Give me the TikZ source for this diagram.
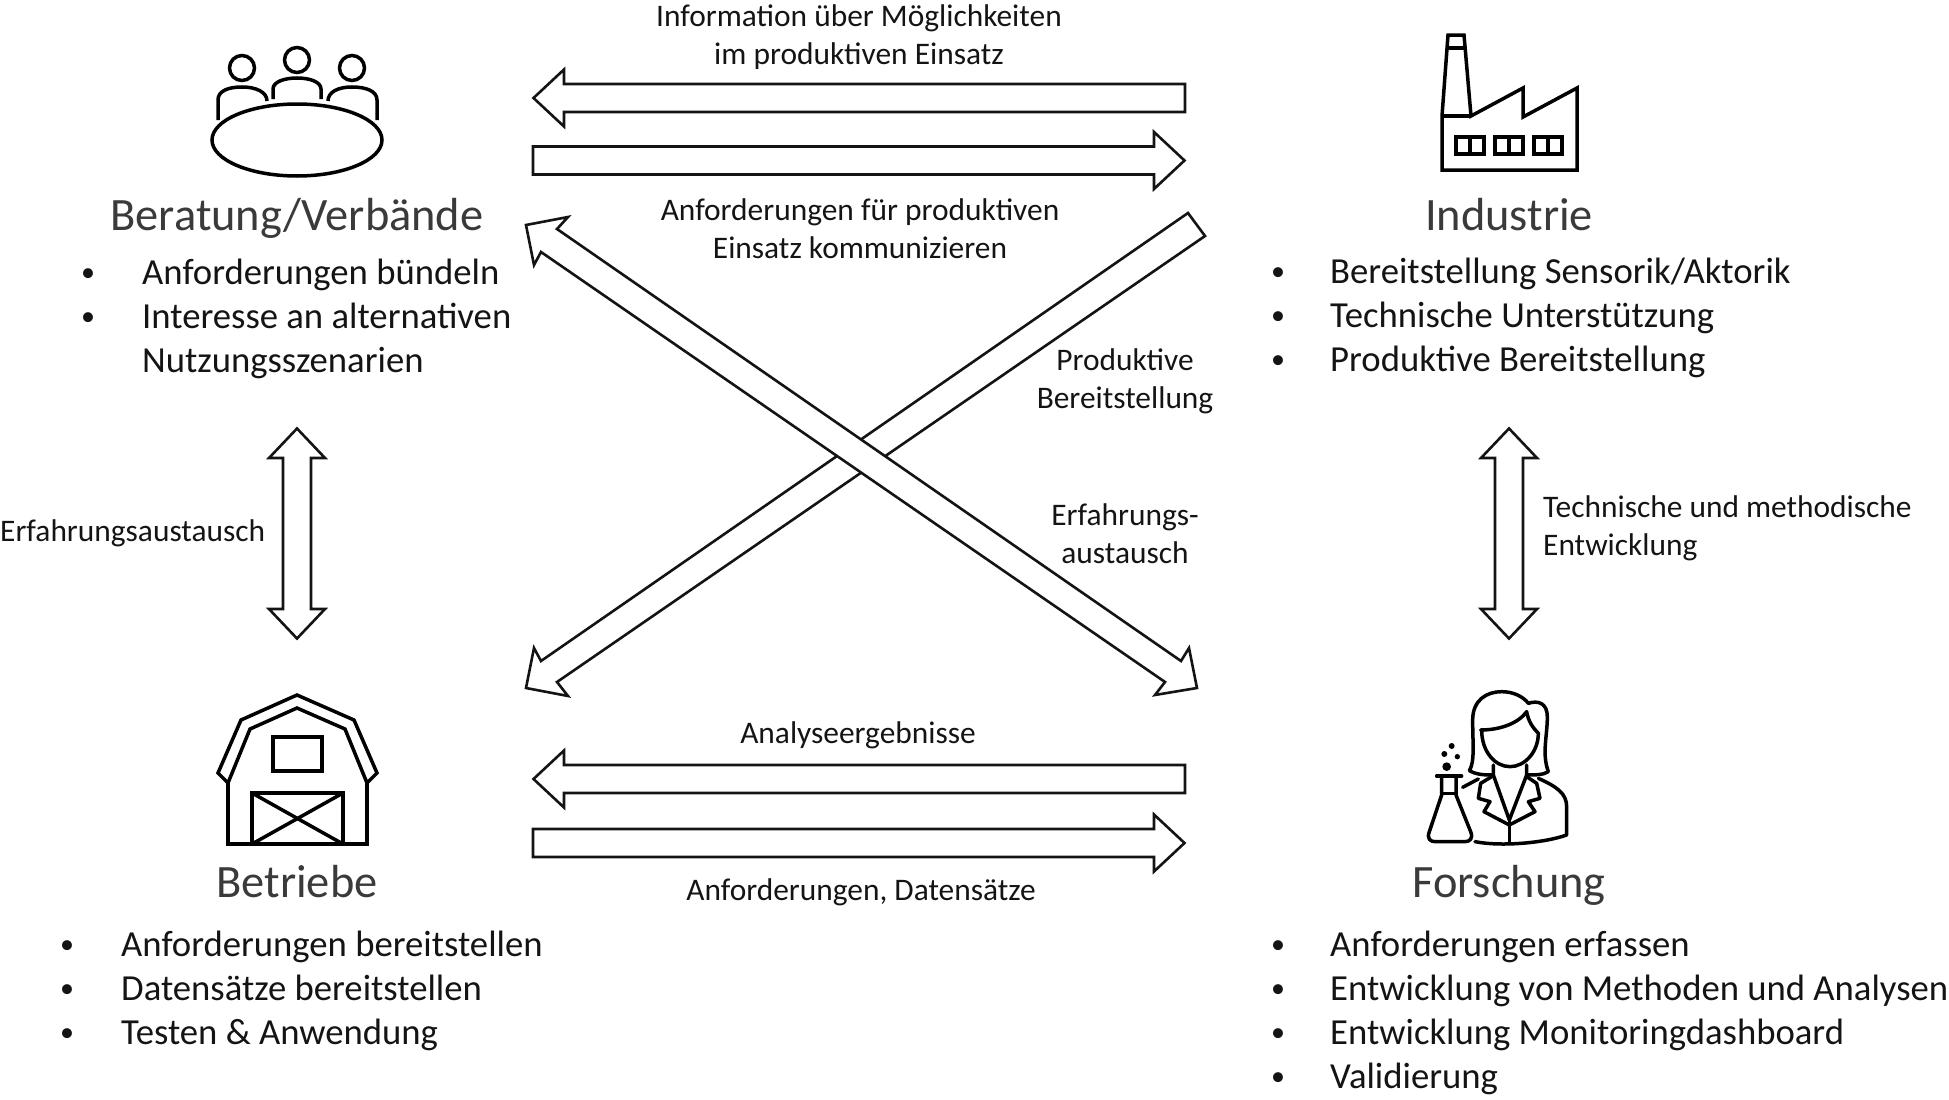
\documentclass[tikz,border=0pt]{standalone}
\usepackage{fontspec}
\setmainfont{Carlito}
\usetikzlibrary{calc}
\definecolor{ink}{RGB}{20,20,20}
\definecolor{titleink}{RGB}{58,58,58}
\tikzset{
  blockarrow/.style={draw=ink,fill=white,line width=2.6pt,line join=miter},
  icon/.style={draw=black,line width=3.5pt,line join=miter},
  iconround/.style={draw=black,line width=3.5pt,line join=round,line cap=round},
  titletext/.style={anchor=base,inner sep=0pt,text=titleink,font=\fontsize{46.4}{54}\selectfont},
  itemtext/.style={anchor=base west,inner sep=0pt,text=ink,font=\fontsize{36.7}{44}\selectfont},
  bullettext/.style={anchor=base,inner sep=0pt,text=ink,font=\fontsize{28}{34}\selectfont},
  labeltext/.style={anchor=base,inner sep=0pt,text=ink,font=\fontsize{31.4}{38}\selectfont},
  labelwest/.style={labeltext,anchor=base west},
}
\newcommand{\blockleft}[1]{\draw[blockarrow] (533.5,#1) -- (564,#1-28.5) -- (564,#1-14) -- (1185,#1-14) -- (1185,#1+14) -- (564,#1+14) -- (564,#1+28.5) -- cycle;}
\newcommand{\blockright}[1]{\draw[blockarrow] (1184.5,#1) -- (1154,#1-28.5) -- (1154,#1-14) -- (533,#1-14) -- (533,#1+14) -- (1154,#1+14) -- (1154,#1+28.5) -- cycle;}
\newcommand{\blockvert}[1]{\draw[blockarrow] (#1,428.5) -- (#1+28,458) -- (#1+14,458) -- (#1+14,609) -- (#1+28,609) -- (#1,638.5) -- (#1-28,609) -- (#1-14,609) -- (#1-14,458) -- (#1-28,458) -- cycle;}
\newcommand{\bulletitem}[3]{\node[bullettext] at (#1,#3-3) {•};\node[itemtext] at (#2,#3) }
\begin{document}
\begin{tikzpicture}[x=1pt,y=-1pt]
\useasboundingbox (0,0) rectangle (1949,1100);

% horizontal block arrows
\blockleft{98}
\blockright{160.5}
\blockleft{779}
\blockright{843}
% vertical double arrows
\blockvert{297}
\blockvert{1509}
% diagonal arrows
\draw[blockarrow] (1188,213) -- (1205,236) -- (557,682) -- (568,696) -- (526,688) -- (534,648) -- (541,661) -- cycle;
\draw[blockarrow] (526,225) -- (568,217) -- (557,229) -- (1181,661) -- (1189,648) -- (1197,688) -- (1155,695) -- (1165,682) -- (541,252) -- (534,265) -- cycle;

% meeting icon
\draw[icon] (297,140) ellipse [x radius=85,y radius=36];
\draw[icon] (242,68) circle (12.5);
\draw[icon] (297,60) circle (12.5);
\draw[icon] (352,68) circle (12.5);
\draw[icon] (218,120) -- (218,100) .. controls (218,91) and (228,87) .. (242,87) .. controls (256,87) and (267,92) .. (267,101);
\draw[icon] (273,99) -- (273,89) .. controls (273,82) and (284,78) .. (297,78) .. controls (310,78) and (321,82) .. (321,89) -- (321,99);
\draw[icon] (377,120) -- (377,100) .. controls (377,91) and (366,87) .. (352,87) .. controls (338,87) and (328,92) .. (328,101);

% factory icon
\draw[icon] (1442,170) -- (1442,116) -- (1448,35) -- (1464,35) -- (1471,116) -- (1523,88) -- (1523,117) -- (1577,88) -- (1577,170) -- cycle;
\draw[icon] (1442,116) -- (1471,116);
\draw[icon] (1447,48) -- (1465,48);
\foreach \wx in {1456,1495,1534} {
  \draw[icon] (\wx,137) rectangle (\wx+28,154);
  \draw[icon] (\wx+14,137) -- (\wx+14,154);
}

% barn icon
\draw[icon] (297,695) -- (354,720) -- (377,773) -- (367,783) -- (345,729) -- (297,708) -- (250,729) -- (228,783) -- (218,773) -- (241,720) -- cycle;
\draw[icon] (228,783) -- (228,844) -- (367,844) -- (367,783);
\draw[icon] (273,737) rectangle (322,771);
\draw[icon] (252,793) rectangle (343,844);
\draw[icon] (252,793) -- (343,844);
\draw[icon] (343,793) -- (252,844);

% scientist icon
\begin{scope}[xshift=1410pt,yshift=-680pt,x=0.3333pt,y=-0.3333pt]
  \draw[iconround] (245,285) .. controls (215,285) and (195,282) .. (178,272) .. controls (195,245) and (188,190) .. (188,120) .. controls (188,60) and (230,35) .. (275,35) .. controls (310,35) and (340,50) .. (355,70) .. controls (385,60) and (412,70) .. (412,110) .. controls (412,170) and (395,220) .. (415,275) .. controls (400,285) and (375,285) .. (350,285);
  \draw[iconround] (212,150) .. controls (270,150) and (325,130) .. (350,95) .. controls (355,125) and (370,145) .. (385,160) .. controls (385,215) and (345,260) .. (300,260) .. controls (255,260) and (215,215) .. (215,150);
  \draw[iconround] (250,255) -- (250,285) -- (298,420) -- (350,285) -- (350,255);
  \draw[iconround] (245,290) -- (212,310) -- (205,355) -- (240,365) -- (222,395) -- (298,435) -- (375,395) -- (355,365) -- (390,355) -- (380,310) -- (350,290);
  \draw[iconround] (298,420) -- (298,490);
  \draw[iconround] (158,322) -- (205,297);
  \draw[iconround] (385,295) .. controls (440,320) and (470,340) .. (470,380) -- (470,465) .. controls (400,490) and (270,500) .. (195,485);
  \draw[iconround] (80,288) -- (155,288);
  \draw[iconround] (95,290) -- (95,345) -- (58,455) .. controls (50,475) and (60,485) .. (75,485) -- (165,485) .. controls (180,485) and (190,475) .. (182,455) -- (138,345) -- (138,290);
  \draw[iconround] (97,340) -- (138,340);
  \fill (110,260) circle (13);
  \fill (103,222) circle (9);
  \fill (125,198) circle (9);
  \fill (142,230) circle (8);
\end{scope}

% titles
\node[titletext] (beratung) at (297,230) {Beratung/Verbände};
\node[titletext] (industrie) at (1509,230) {Industrie};
\node[titletext] (betriebe) at (297,897) {Betriebe};
\node[titletext] (forschung) at (1509,897) {Forschung};

% lists
\bulletitem{88}{142}{284}(b1){Anforderungen bündeln};
\bulletitem{88}{142}{328}(b2){Interesse an alternativen};
\node[itemtext] (b3) at (142,372) {Nutzungsszenarien};

\bulletitem{1278}{1330}{283}(i1){Bereitstellung Sensorik/Aktorik};
\bulletitem{1278}{1330}{327}(i2){Technische Unterstützung};
\bulletitem{1278}{1330}{371}(i3){Produktive Bereitstellung};

\bulletitem{67}{121}{956}(h1){Anforderungen bereitstellen};
\bulletitem{67}{121}{1000}(h2){Datensätze bereitstellen};
\bulletitem{67}{121}{1044}(h3){Testen \& Anwendung};

\bulletitem{1278}{1330}{956}(f1){Anforderungen erfassen};
\bulletitem{1278}{1330}{1000}(f2){Entwicklung von Methoden und Analysen};
\bulletitem{1278}{1330}{1044}(f3){Entwicklung Monitoringdashboard};
\bulletitem{1278}{1330}{1088}(f4){Validierung};

% arrow labels
\node[labeltext] (l1) at (859,26) {Information über Möglichkeiten};
\node[labeltext] (l2) at (859,64) {im produktiven Einsatz};
\node[labeltext] (l3) at (860,220) {Anforderungen für produktiven};
\node[labeltext] (l4) at (860,258) {Einsatz kommunizieren};
\node[labeltext] (l5) at (1125,370) {Produktive};
\node[labeltext] (l6) at (1125,408) {Bereitstellung};
\node[labeltext] (l7) at (1125,525) {Erfahrungs-};
\node[labeltext] (l8) at (1125,563) {austausch};
\node[labelwest] (l9) at (0,541) {Erfahrungsaustausch};
\node[labelwest] (l10) at (1543,517) {Technische und methodische};
\node[labelwest] (l11) at (1543,555) {Entwicklung};
\node[labeltext] (l12) at (858,743) {Analyseergebnisse};
\node[labeltext] (l13) at (861,900) {Anforderungen, Datensätze};
\end{tikzpicture}
\end{document}
